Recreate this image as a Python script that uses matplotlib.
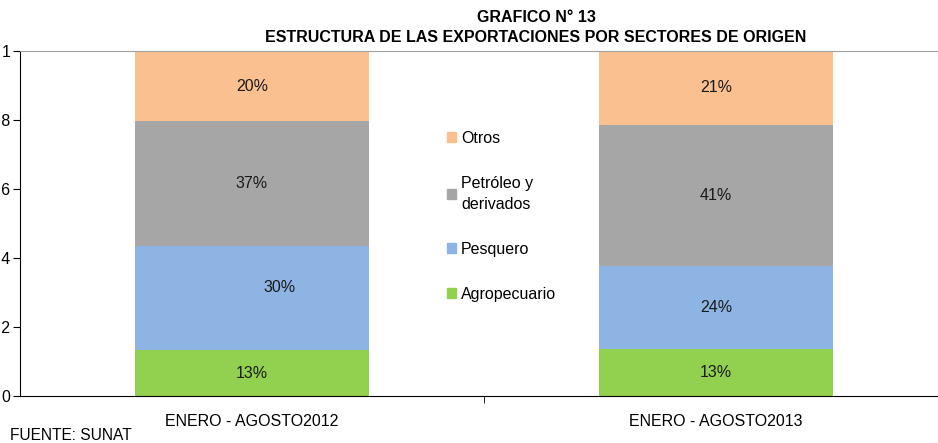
import numpy as np
import matplotlib.pyplot as plt
from matplotlib.patches import Patch

plt.rcParams['font.family'] = ['Liberation Sans', 'DejaVu Sans']

periods = ['ENERO - AGOSTO2012', 'ENERO - AGOSTO2013']
sectors = ['Agropecuario', 'Pesquero', 'Petróleo y\nderivados', 'Otros']
shares = {
    'Agropecuario': [0.133, 0.136],
    'Pesquero': [0.302, 0.241],
    'Petróleo y\nderivados': [0.362, 0.409],
    'Otros': [0.203, 0.214],
}
labels = {
    'Agropecuario': ['13%', '13%'],
    'Pesquero': ['30%', '24%'],
    'Petróleo y\nderivados': ['37%', '41%'],
    'Otros': ['20%', '21%'],
}
colors = {
    'Agropecuario': '#92D050',
    'Pesquero': '#8EB4E3',
    'Petróleo y\nderivados': '#A6A6A6',
    'Otros': '#FAC090',
}
yticks = [0, 0.2, 0.4, 0.6, 0.8, 1]
yticklabels = ['0', '0,2', '0,4', '0,6', '0,8', '1']

W, H = 938, 443
fig = plt.figure(figsize=(W / 100, H / 100), dpi=100)
ax = fig.add_axes([20 / W, (H - 396) / H, 928 / W, 345 / H])

x = np.arange(len(periods))
bottom = np.zeros(len(periods))
for s in sectors:
    vals = np.array(shares[s])
    ax.bar(x, vals, 0.503, bottom=bottom, color=colors[s], label=s, zorder=2)
    for i in range(len(periods)):
        # 30% label sits a bit off-centre in the original
        dx = 0.06 if (s == 'Pesquero' and i == 0) else 0
        dy = 0.03 if (s == 'Pesquero' and i == 0) else 0
        ax.text(x[i] + dx, bottom[i] + vals[i] / 2 + dy, labels[s][i],
                ha='center', va='center', fontsize=11.5, color='#1a1a1a')
    bottom += vals

ax.set_xlim(-0.5, 1.5)
ax.set_ylim(0, 1)
ax.set_yticks(yticks)
ax.set_yticklabels(yticklabels, fontsize=11.5)
ax.set_xticks(x)
ax.set_xticklabels(periods, fontsize=11.5)
ax.set_xticks([0.5], minor=True)
ax.tick_params(axis='x', which='major', length=0, pad=13)
ax.tick_params(axis='x', which='minor', length=5, direction='out')
ax.tick_params(axis='y', length=5, pad=2)
ax.spines['right'].set_visible(False)
ax.spines['top'].set_color('#A0A0A0')

handles = [Patch(color=colors[s]) for s in reversed(sectors)]
leg = ax.legend(handles, list(reversed(sectors)), loc='upper left',
                bbox_to_anchor=(413 / 928, 0.81), frameon=False,
                fontsize=11.5, handlelength=0.55, handleheight=0.55,
                handletextpad=0.3, labelspacing=1.87)
leg.get_texts()[1].set_linespacing(1.5)

fig.text(536 / W, 1 - 18 / H, 'GRAFICO N° 13', ha='center', va='center',
         fontsize=11.5, fontweight='bold')
fig.text(536 / W, 1 - 38 / H, 'ESTRUCTURA DE LAS EXPORTACIONES POR SECTORES DE ORIGEN',
         ha='center', va='center', fontsize=11.5, fontweight='bold')
fig.text(10 / W, 1 - 436 / H, 'FUENTE: SUNAT', ha='left', va='center', fontsize=11.2)

fig.savefig('out.png', dpi=100)
